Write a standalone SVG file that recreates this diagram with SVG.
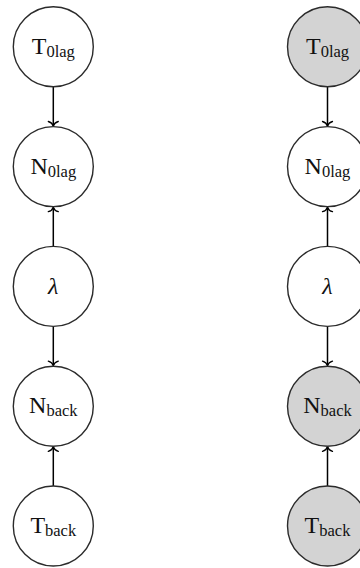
<svg xmlns="http://www.w3.org/2000/svg" width="360" height="568" viewBox="0 0 360 568">
  <style>
    .node { stroke: #2b2b2b; stroke-width: 1.4; fill: #ffffff; }
    .obs { fill: #d3d3d3; }
    .lbl { font-family: "Liberation Serif", "DejaVu Serif", serif; font-size: 24px; fill: #111; text-anchor: middle; }
    .sub { font-size: 16.5px; }
    .edge { stroke: #000; stroke-width: 1.5; fill: none; marker-end: url(#tip); }
  </style>
  <defs>
    <marker id="tip" markerUnits="userSpaceOnUse" orient="auto" refX="0" refY="0" viewBox="-6 -6 8 12" markerWidth="8" markerHeight="12" overflow="visible">
      <path d="M-4.5,-5 C-3.8,-2.2 -1.8,-0.6 0,0 C-1.8,0.6 -3.8,2.2 -4.5,5" fill="none" stroke="#000" stroke-width="1.3" stroke-linecap="round"/>
    </marker>
  </defs>

  <!-- connectors -->
  <g id="edges">
    <line class="edge" x1="53.3" y1="86.8" x2="53.3" y2="126"/>
    <line class="edge" x1="53.3" y1="246.4" x2="53.3" y2="207.2"/>
    <line class="edge" x1="53.3" y1="326.4" x2="53.3" y2="365.6"/>
    <line class="edge" x1="53.3" y1="486" x2="53.3" y2="446.8"/>

    <line class="edge" x1="327.5" y1="86.8" x2="327.5" y2="126"/>
    <line class="edge" x1="327.5" y1="246.4" x2="327.5" y2="207.2"/>
    <line class="edge" x1="327.5" y1="326.4" x2="327.5" y2="365.6"/>
    <line class="edge" x1="327.5" y1="486" x2="327.5" y2="446.8"/>
  </g>

  <!-- left model -->
  <g id="T0lag-a">
    <circle class="node" cx="53.3" cy="46.8" r="40"/>
    <text class="lbl" x="53.3" y="54">T<tspan class="sub" dy="3">0lag</tspan></text>
  </g>
  <g id="N0lag-a">
    <circle class="node" cx="53.3" cy="166.6" r="40"/>
    <text class="lbl" x="53.3" y="174">N<tspan class="sub" dy="3">0lag</tspan></text>
  </g>
  <g id="lambda-a">
    <circle class="node" cx="53.3" cy="286.4" r="40"/>
    <text class="lbl" x="53.3" y="293.5" font-style="italic">λ</text>
  </g>
  <g id="Nback-a">
    <circle class="node" cx="53.3" cy="406.2" r="40"/>
    <text class="lbl" x="53.3" y="413">N<tspan class="sub" dy="3">back</tspan></text>
  </g>
  <g id="Tback-a">
    <circle class="node" cx="53.3" cy="526" r="40"/>
    <text class="lbl" x="53.3" y="533">T<tspan class="sub" dy="3">back</tspan></text>
  </g>

  <!-- right model (shaded nodes are observed) -->
  <g id="T0lag-b">
    <circle class="node obs" cx="327.5" cy="46.8" r="40"/>
    <text class="lbl" x="327.5" y="54">T<tspan class="sub" dy="3">0lag</tspan></text>
  </g>
  <g id="N0lag-b">
    <circle class="node" cx="327.5" cy="166.6" r="40"/>
    <text class="lbl" x="327.5" y="174">N<tspan class="sub" dy="3">0lag</tspan></text>
  </g>
  <g id="lambda-b">
    <circle class="node" cx="327.5" cy="286.4" r="40"/>
    <text class="lbl" x="327.5" y="293.5" font-style="italic">λ</text>
  </g>
  <g id="Nback-b">
    <circle class="node obs" cx="327.5" cy="406.2" r="40"/>
    <text class="lbl" x="327.5" y="413">N<tspan class="sub" dy="3">back</tspan></text>
  </g>
  <g id="Tback-b">
    <circle class="node obs" cx="327.5" cy="526" r="40"/>
    <text class="lbl" x="327.5" y="533">T<tspan class="sub" dy="3">back</tspan></text>
  </g>
</svg>
